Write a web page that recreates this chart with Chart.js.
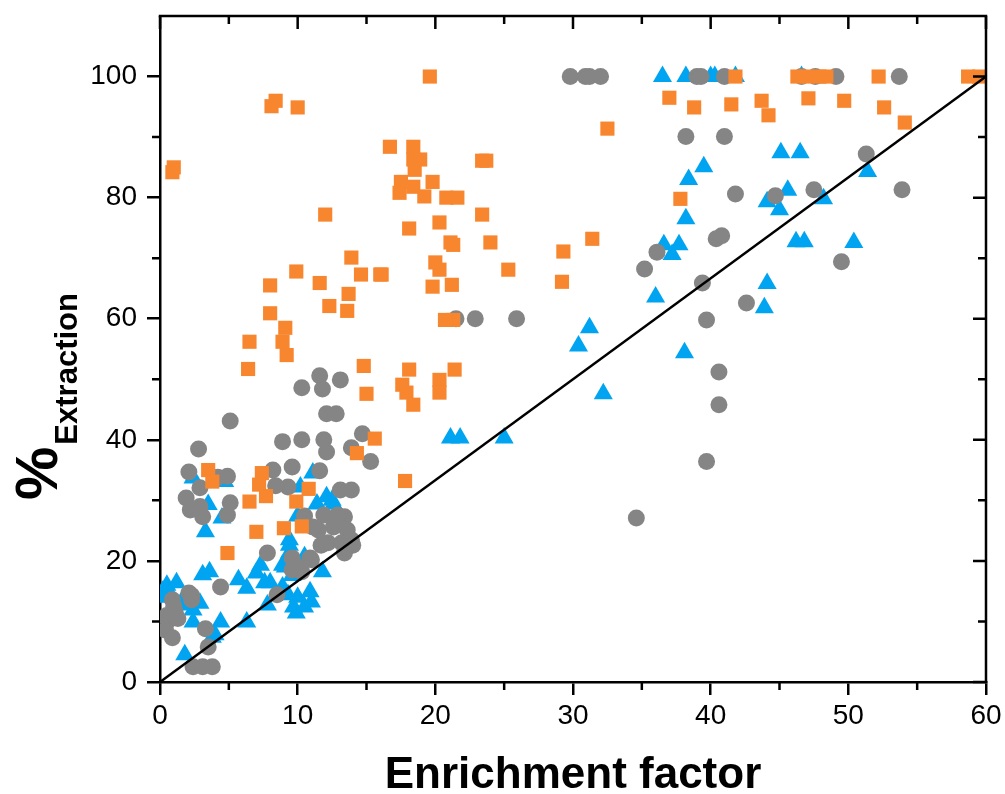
<!DOCTYPE html>
<html>
<head>
<meta charset="utf-8">
<script src="https://cdn.jsdelivr.net/npm/chart.js@4.4.0/dist/chart.umd.min.js"></script>
<style>
  body { margin: 0; background: #fff; }
  #wrap { width: 1005px; height: 794px; }
</style>
</head>
<body>
<div id="wrap"><canvas id="chartExtraction"></canvas></div>
<script>
// tick labels
const xTicks = [0, 10, 20, 30, 40, 50, 60]
const yTicks = [0, 20, 40, 60, 80, 100]
const xMinor = [5, 15, 25, 35, 45, 55]
const yMinor = [10, 30, 50, 70, 90]

// orange squares
const orangePts = [
    [0.9, 84.2], [1.0, 85.0], [8.1, 95.1], [8.4, 96.0], [10.0, 94.9], [19.6, 100],
    [16.7, 88.4], [18.4, 88.4], [18.4, 86.3], [18.9, 86.3], [18.5, 84.6], [17.5, 82.6],
    [17.4, 80.8], [18.4, 81.8], [19.8, 82.6], [19.2, 80.2], [20.8, 80.0], [21.6, 80.0],
    [23.4, 86.1], [23.7, 86.1], [23.4, 77.2], [18.1, 74.9], [20.3, 75.9], [21.1, 72.6],
    [21.3, 72.2], [24.0, 72.6], [29.3, 71.1], [29.2, 66.1], [25.3, 68.1], [16.1, 67.3],
    [20.0, 69.3], [20.3, 68.1], [19.8, 65.3], [21.2, 65.6], [21.3, 59.8], [20.7, 59.8],
    [18.1, 51.6], [21.4, 51.6], [17.6, 49.1], [17.9, 47.8], [20.3, 49.9], [20.3, 47.8],
    [18.4, 45.8], [12.0, 77.2], [13.9, 70.1], [9.9, 67.8], [11.6, 65.9], [14.6, 67.3],
    [16.0, 67.3], [8.0, 65.5], [12.3, 62.1], [13.7, 64.1], [13.6, 61.3], [8.0, 60.9],
    [6.5, 56.2], [9.1, 58.5], [8.9, 56.2], [9.2, 54.0], [6.4, 51.7], [14.8, 52.2],
    [15.0, 47.6], [15.6, 40.2], [14.3, 37.8], [17.8, 33.2], [3.5, 35.0], [3.8, 33.1],
    [7.4, 34.5], [7.2, 32.6], [7.7, 30.7], [6.5, 29.8], [9.9, 29.8], [10.8, 31.9],
    [7.0, 24.8], [9.0, 25.4], [10.3, 25.7], [4.9, 21.3],
    [41.8, 100], [46.3, 100], [47.0, 100], [47.9, 100], [48.4, 100], [52.2, 100],
    [58.7, 100], [59.5, 100], [37.0, 96.5], [38.8, 94.9], [41.5, 95.4], [43.7, 96.0],
    [44.2, 93.6], [47.1, 96.4], [49.7, 96.0], [52.6, 94.9], [54.1, 92.4], [32.5, 91.4],
    [37.8, 79.8], [31.4, 73.2]
]

// grey circles
const greyPts = [
    [29.8, 100], [30.9, 100], [31.2, 100], [32.0, 100], [39.0, 100], [39.3, 100],
    [41.0, 100], [46.6, 100], [47.6, 100], [49.1, 100], [53.7, 100],
    [38.2, 90.1], [41.0, 90.1], [51.3, 87.2], [41.8, 80.6], [44.7, 80.3], [47.5, 81.3],
    [53.9, 81.3], [40.4, 73.2], [40.8, 73.7], [36.1, 71.0], [35.2, 68.2], [39.4, 65.9],
    [42.6, 62.6], [49.5, 69.4], [39.7, 59.8], [40.6, 51.2], [40.6, 45.8], [39.7, 36.4],
    [34.6, 27.1], [21.5, 60.0], [22.9, 60.0], [25.9, 60.0],
    [11.6, 50.6], [13.1, 49.9], [10.3, 48.6], [11.8, 48.4], [12.1, 44.3], [12.8, 44.3],
    [5.1, 43.1], [8.9, 39.7], [10.3, 40.0], [11.9, 40.0], [12.1, 38.0], [14.7, 41.0],
    [13.9, 38.7], [15.3, 36.4], [2.8, 38.5], [2.1, 34.7], [9.6, 35.5], [11.6, 34.9],
    [4.9, 34.0], [4.2, 33.8], [8.2, 35.0], [9.3, 32.2], [8.4, 32.4], [13.1, 31.7],
    [13.9, 31.7], [10.5, 27.4], [11.9, 27.6], [13.4, 27.3], [11.5, 25.1], [12.6, 25.6],
    [13.6, 25.1], [12.2, 23.0], [13.2, 23.0], [13.9, 23.5], [11.7, 22.6], [7.8, 21.3],
    [9.6, 20.5], [10.9, 20.5], [9.6, 18.5], [10.3, 18.2], [11.0, 20.2], [8.5, 14.4],
    [14.0, 22.6], [13.4, 21.3], [11.1, 25.6], [12.9, 27.6], [10.0, 19.0],
    [2.9, 32.1], [1.9, 30.4], [2.2, 28.4], [2.9, 29.0], [3.1, 27.3], [5.1, 29.6],
    [4.9, 27.6], [4.4, 15.7], [2.1, 14.7], [2.3, 13.6], [0.9, 13.6], [1.1, 11.6],
    [0.6, 10.2], [0.4, 8.6], [0.9, 7.3], [3.3, 8.8], [3.5, 5.8], [2.4, 2.5], [3.1, 2.5],
    [3.8, 2.5], [1.0, 12.5], [0.5, 11.0], [1.3, 10.5], [2.3, 14.3]
]

// blue triangles
const bluePts = [
    [36.5, 100], [38.2, 100], [40.0, 100], [40.3, 100], [41.8, 100], [46.6, 100],
    [45.1, 87.4], [46.5, 87.4], [39.5, 85.1], [38.4, 83.0], [51.4, 84.3], [45.6, 81.2],
    [44.1, 79.3], [45.0, 78.0], [48.2, 79.8], [38.2, 76.5], [36.6, 72.2], [37.7, 72.2],
    [46.2, 72.7], [46.8, 72.7], [50.4, 72.6], [37.2, 70.6], [44.1, 65.8], [43.9, 61.8],
    [36.0, 63.6], [31.2, 58.5], [30.4, 55.5], [38.1, 54.4], [32.2, 47.6], [21.1, 40.3],
    [21.8, 40.3], [25.0, 40.3],
    [11.1, 34.5], [10.2, 32.2], [12.1, 30.6], [12.5, 30.0], [9.4, 23.5], [9.4, 22.6],
    [9.1, 19.0], [11.8, 18.2], [8.0, 16.4], [10.0, 14.0], [9.9, 11.4], [11.0, 13.2],
    [9.7, 12.4], [10.5, 12.4], [9.4, 21.3], [8.9, 19.3], [9.6, 17.6], [8.9, 15.7],
    [9.3, 14.4], [10.9, 14.9], [10.5, 20.7], [11.4, 29.4], [12.6, 29.4], [10.0, 27.4],
    [2.4, 33.7], [4.7, 33.1], [3.5, 29.3], [3.3, 24.8], [4.5, 27.1], [3.1, 17.7],
    [5.7, 16.9], [6.3, 15.5], [7.0, 18.0], [7.6, 16.4], [0.5, 16.0], [1.2, 16.4],
    [0.4, 14.0], [2.4, 9.9], [4.4, 9.9], [6.3, 9.9], [1.8, 4.5], [2.4, 11.9],
    [2.9, 13.0], [3.8, 7.4], [3.6, 18.2], [7.3, 19.3], [7.8, 12.7], [1.8, 12.7],
    [4.0, 7.8], [0.2, 15.0], [0.7, 14.6], [1.5, 13.0]
]

// reference line
const lineX = [0, 60]
const lineY = [0, 100]

const toXY = pts => pts.map(p => ({ x: p[0], y: p[1] }))

const frame = {
    id: 'frame',
    afterDraw(chart) {
        const { ctx, chartArea: a, scales: { x, y } } = chart
        ctx.save()
        ctx.strokeStyle = '#000'
        ctx.lineWidth = 2.5
        ctx.lineCap = 'square'
        ctx.beginPath()
        ctx.moveTo(a.left, a.top)
        ctx.lineTo(a.right, a.top)
        ctx.lineTo(a.right, a.bottom)
        ctx.stroke()
        ctx.lineCap = 'butt'
        ctx.beginPath()
        xTicks.forEach(v => {
            const px = x.getPixelForValue(v)
            ctx.moveTo(px, a.top); ctx.lineTo(px, a.top + 13)
        })
        xMinor.forEach(v => {
            const px = x.getPixelForValue(v)
            ctx.moveTo(px, a.top); ctx.lineTo(px, a.top + 8)
            ctx.moveTo(px, a.bottom); ctx.lineTo(px, a.bottom + 8)
        })
        yTicks.forEach(v => {
            const py = y.getPixelForValue(v)
            ctx.moveTo(a.right, py); ctx.lineTo(a.right - 13, py)
        })
        yMinor.forEach(v => {
            const py = y.getPixelForValue(v)
            ctx.moveTo(a.right, py); ctx.lineTo(a.right - 8, py)
            ctx.moveTo(a.left, py); ctx.lineTo(a.left - 8, py)
        })
        ctx.stroke()

        // axis titles
        ctx.fillStyle = '#000'
        ctx.textBaseline = 'alphabetic'
        ctx.textAlign = 'center'
        ctx.font = 'bold 44px "Liberation Sans", Arial, sans-serif'
        ctx.fillText('Enrichment factor', (a.left + a.right) / 2, 788)

        ctx.textAlign = 'left'
        ctx.translate(57, 500)
        ctx.rotate(-Math.PI / 2)
        ctx.font = 'bold 60px "Liberation Sans", Arial, sans-serif'
        ctx.fillText('%', 0, 0)
        const w = ctx.measureText('%').width
        ctx.font = 'bold 31px "Liberation Sans", Arial, sans-serif'
        ctx.fillText('Extraction', w + 2, 20)
        ctx.restore()
    }
}

const tickFont = { family: '"Liberation Sans", Arial, sans-serif', size: 28 }

new Chart(document.getElementById('chartExtraction'), {
    type: 'scatter',
    data: {
        datasets: [{
            type: 'line',
            data: lineX.map((v, i) => ({ x: v, y: lineY[i] })),
            borderColor: '#000',
            borderWidth: 2.5,
            pointRadius: 0,
            fill: false,
            order: 0
        }, {
            data: toXY(orangePts),
            backgroundColor: 'rgb(247, 134, 46)',
            borderWidth: 0,
            pointStyle: 'rect',
            pointRadius: 10,
            order: 1
        }, {
            data: toXY(greyPts),
            backgroundColor: 'rgb(133, 133, 133)',
            borderWidth: 0,
            pointStyle: 'circle',
            pointRadius: 8.5,
            order: 2
        }, {
            data: toXY(bluePts),
            backgroundColor: 'rgb(0, 164, 240)',
            borderWidth: 0,
            pointStyle: 'triangle',
            pointRadius: 11,
            order: 3
        }]
    },
    options: {
        responsive: true,
        maintainAspectRatio: false,
        animation: false,
        events: [],
        layout: { padding: { top: 16, right: 19, left: 0, bottom: 0 } },
        plugins: { legend: { display: false }, tooltip: { enabled: false } },
        scales: {
            x: {
                type: 'linear',
                min: 0,
                max: 60,
                afterBuildTicks: s => { s.ticks = xTicks.map(v => ({ value: v })) },
                afterFit: s => { s.height = 112; s.paddingLeft = 0; s.paddingRight = 0 },
                ticks: { font: tickFont, color: '#000', padding: 4, maxRotation: 0 },
                grid: { drawOnChartArea: false, tickLength: 13, color: '#000', lineWidth: 2.5 },
                border: { color: '#000', width: 2.5 }
            },
            y: {
                type: 'linear',
                min: 0,
                max: 110,
                afterBuildTicks: s => { s.ticks = yTicks.map(v => ({ value: v })) },
                afterFit: s => { s.width = 160; s.paddingTop = 0; s.paddingBottom = 0 },
                ticks: { font: tickFont, color: '#000', padding: 10 },
                grid: { drawOnChartArea: false, tickLength: 13, color: '#000', lineWidth: 2.5 },
                border: { color: '#000', width: 2.5 }
            }
        }
    },
    plugins: [frame]
})
</script>
</body>
</html>
